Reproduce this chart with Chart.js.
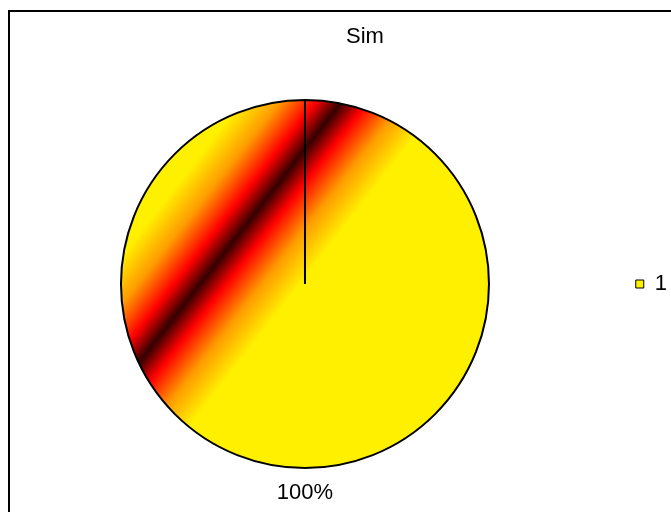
<!DOCTYPE html>
<html>
<head>
<meta charset="utf-8">
<script src="https://cdn.jsdelivr.net/npm/chart.js@4/dist/chart.umd.min.js"></script>
<style>
  html, body { margin: 0; padding: 0; background: #fff; }
  canvas { display: block; }
</style>
</head>
<body>
<canvas id="c" width="671" height="512"></canvas>
<script>
// Chart content
const categories = ['1'];
const values = [100];
const chartTitle = 'Sim';

const FONT = '"Liberation Sans", Arial, sans-serif';
const FONT_SIZE = 22;
const YELLOW = '#FFF000';

// Diagonal "fire" band: yellow -> orange -> red -> dark -> red -> orange -> yellow
function fireGradient(ctx, cx, cy, r) {
  const nx = 0.790, ny = 0.614;          // direction across the band
  const mid = -0.45 * r, half = 0.43 * r; // band centre offset and half width
  const g = ctx.createLinearGradient(
    cx + nx * (mid - half), cy + ny * (mid - half),
    cx + nx * (mid + half), cy + ny * (mid + half));
  g.addColorStop(0.00, YELLOW);
  g.addColorStop(0.19, '#FF9C00');
  g.addColorStop(0.37, '#FF0000');
  g.addColorStop(0.50, '#340000');
  g.addColorStop(0.63, '#FF0000');
  g.addColorStop(0.81, '#FF9C00');
  g.addColorStop(1.00, YELLOW);
  return g;
}

function sliceFill(context) {
  const chart = context.chart;
  const a = chart.chartArea;
  if (!a) return YELLOW;
  const cx = (a.left + a.right) / 2;
  const cy = (a.top + a.bottom) / 2;
  const r = (Math.min(a.width, a.height) - 2) / 2;
  return fireGradient(chart.ctx, cx, cy, r);
}

// Outer border of the chart object
const framePlugin = {
  id: 'frame',
  afterDraw(chart) {
    const ctx = chart.ctx;
    ctx.save();
    ctx.strokeStyle = '#000';
    ctx.lineWidth = 2;
    ctx.strokeRect(9, 11, 720, 560);
    ctx.restore();
  }
};

// Percentage labels outside each slice
const percentPlugin = {
  id: 'percentLabels',
  afterDatasetsDraw(chart) {
    const ctx = chart.ctx;
    const meta = chart.getDatasetMeta(0);
    const data = chart.data.datasets[0].data;
    const total = data.reduce((s, v) => s + v, 0);
    ctx.save();
    ctx.font = FONT_SIZE + 'px ' + FONT;
    ctx.fillStyle = '#000';
    ctx.textAlign = 'center';
    ctx.textBaseline = 'middle';
    meta.data.forEach((arc, i) => {
      const p = arc.getProps(['x', 'y', 'startAngle', 'endAngle', 'outerRadius'], true);
      const ang = (p.startAngle + p.endAngle) / 2;
      const d = p.outerRadius + 25;
      const pct = Math.round(data[i] / total * 100) + '%';
      ctx.fillText(pct, p.x + Math.cos(ang) * d, p.y + Math.sin(ang) * d);
    });
    ctx.restore();
  }
};

new Chart(document.getElementById('c'), {
  type: 'pie',
  data: {
    labels: categories,
    datasets: [{
      data: values,
      backgroundColor: sliceFill,
      borderColor: '#000',
      borderWidth: 2
    }]
  },
  options: {
    responsive: false,
    devicePixelRatio: 1,
    animation: false,
    events: [],
    layout: { padding: { left: 53, right: -6, top: 0, bottom: 43 } },
    plugins: {
      title: {
        display: true,
        text: chartTitle,
        color: '#000',
        font: { family: FONT, size: FONT_SIZE, weight: 'normal' },
        padding: { top: 23.8, bottom: 48.8 }
      },
      legend: {
        position: 'right',
        fullSize: false,
        labels: {
          boxWidth: 8,
          boxHeight: 8,
          padding: 78.8,
          color: '#000',
          font: { family: FONT, size: FONT_SIZE },
          generateLabels: () => categories.map((c, i) => ({
            text: c,
            fillStyle: YELLOW,
            strokeStyle: '#000',
            lineWidth: 1,
            hidden: false,
            index: i,
            fontColor: '#000'
          }))
        }
      },
      tooltip: { enabled: false }
    }
  },
  plugins: [framePlugin, percentPlugin]
});
</script>
</body>
</html>
